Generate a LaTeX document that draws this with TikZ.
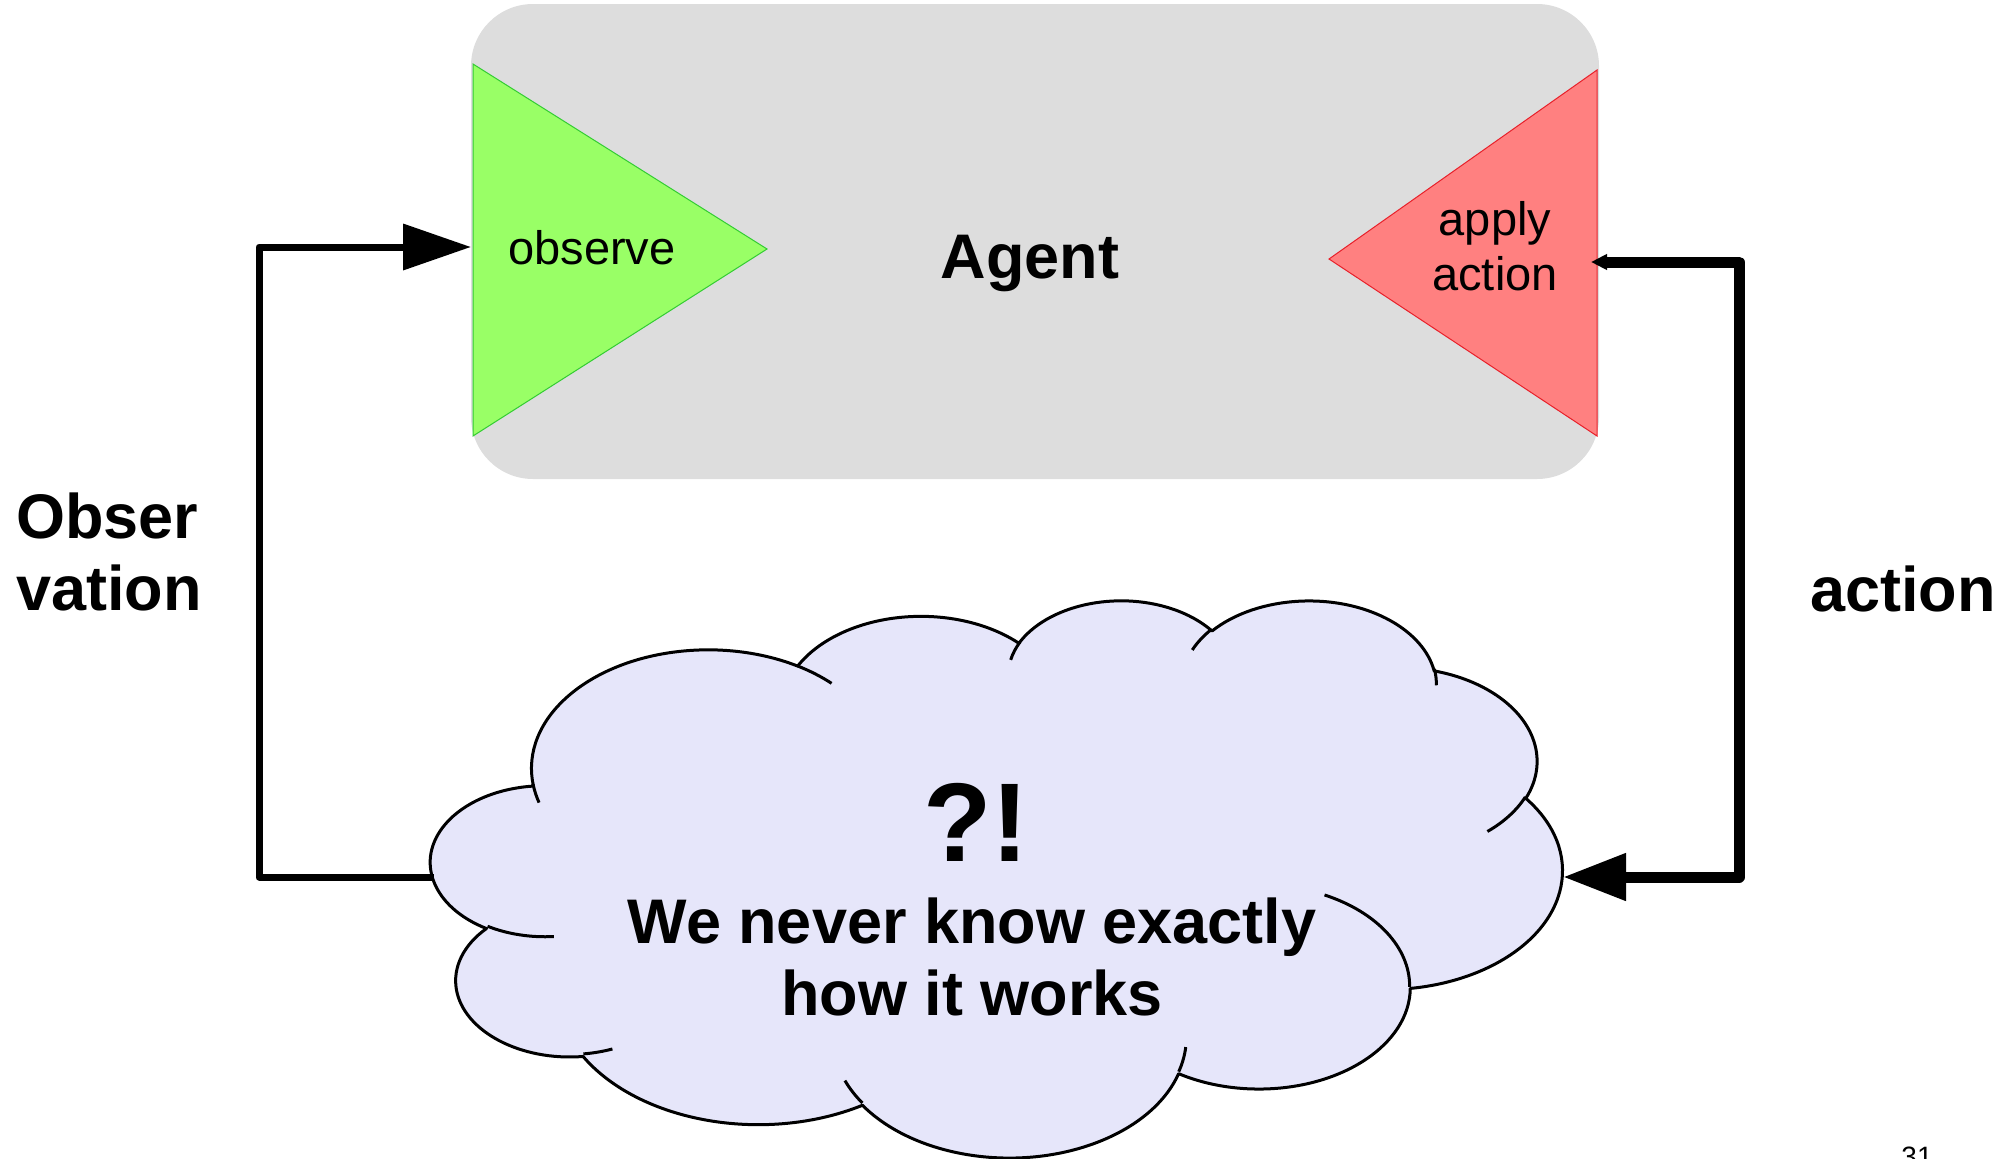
\documentclass[tikz,border=0pt]{standalone}
\usepackage{fontspec}
\setmainfont{Liberation Sans}
\usetikzlibrary{arrows.meta}
\definecolor{agentgray}{HTML}{DDDDDD}
\definecolor{obsgreen}{HTML}{99FF66}
\definecolor{obsedge}{HTML}{33CC33}
\definecolor{actred}{HTML}{FF8080}
\definecolor{actedge}{HTML}{E8202A}
\definecolor{cloudfill}{HTML}{E6E6FA}
\begin{document}
\begin{tikzpicture}[x=1pt,y=-1pt,
  % elliptical arc given by radii, geometric start angle and sweep (y axis down)
  declare function={geopar(\ra,\rb,\ph)=atan2(\ra*sin(\ph),\rb*cos(\ph));},
  oarc/.style n args={4}{x radius=#1,y radius=#2,
    start angle={geopar(#1,#2,#3)},
    delta angle={mod(geopar(#1,#2,(#3)+(#4))-geopar(#1,#2,#3)+720,360)}},
  cloudline/.style={draw=black,line width=3pt,line join=round},
  looptxt/.style={font=\fontsize{63}{72}\selectfont\bfseries,inner sep=0pt,anchor=base},
  innertxt/.style={font=\fontsize{47}{55}\selectfont,inner sep=0pt,anchor=base},
  loopline/.style={draw=black,line join=round}]
\path[use as bounding box] (0,0) rectangle (1992,1159);
\clip (0,0) rectangle (1992,1159);

% agent box with its two ports
\fill[agentgray,rounded corners=62pt] (471,4) rectangle (1599,479);
\filldraw[fill=obsgreen,draw=obsedge,line width=1pt] (473,64) -- (767,249) -- (473,436) -- cycle;
\filldraw[fill=actred,draw=actedge,line width=1pt] (1597,70) -- (1329,259) -- (1597,436) -- cycle;
\node[innertxt] (observe) at (592,264) {observe};
% multi-line nodes sit on the baseline of their last line
\node[innertxt,align=center] (apply) at (1495,290) {apply\\action};
\node[looptxt] (agent) at (1030,278) {Agent};

% environment cloud
\begin{scope}[shift={(431,599)},x=0.261806pt,y=-0.128935pt]
\draw[cloudline,fill=cloudfill] (390,1437)
  arc[oarc={675.3}{919.0}{-190.48748}{123.78053}]
  arc[oarc={533.3}{726.7}{-144.10238}{89.94523}]
  arc[oarc={436.5}{594.5}{-145.80792}{99.72302}]
  arc[oarc={485.7}{659.5}{-130.98607}{117.24173}]
  arc[oarc={533.3}{727.3}{-78.70888}{109.02692}]
  arc[oarc={677.5}{922.0}{-46.26725}{130.26900}]
  arc[oarc={578.5}{786.7}{0.62502}{114.03333}]
  arc[oarc={675.2}{921.5}{22.45160}{115.17255}]
  arc[oarc={772.0}{1054.3}{66.24263}{75.64435}]
  arc[oarc={436.0}{591.8}{-274.94208}{146.73557}]
  arc[oarc={434.5}{594.5}{-246.82850}{152.51885}]
  -- cycle;
\draw[cloudline]
  (469.3,2617.7) arc[oarc={434.5}{594.5}{86.74200}{26.42950}]
  (692.8,3489.9) arc[oarc={436.0}{591.8}{73.61047}{11.44747}]
  (1647.8,3909.0) arc[oarc={675.2}{921.5}{137.62415}{14.08110}]
  (2882.7,3475.1) arc[oarc={675.2}{921.5}{6.45327}{15.99835}]
  (3412.9,2295.4) arc[oarc={578.5}{786.7}{-70.29235}{70.91737}]
  (4179.8,1535.4) arc[oarc={533.3}{727.3}{30.31803}{27.75150}]
  (3832.4,542.6) arc[oarc={485.7}{659.5}{-13.74433}{14.85890}]
  (2907.8,395.2) arc[oarc={485.7}{659.5}{-149.18145}{18.19537}]
  (2214.1,472.0) arc[oarc={436.5}{594.5}{-163.49427}{17.68635}]
  (1400.0,519.2) arc[oarc={675.3}{919.0}{-66.70695}{12.31935}]
  (412.7,1578.9) arc[oarc={675.3}{919.0}{157.65435}{11.85817}];
\end{scope}
\node[font=\fontsize{112}{120}\selectfont\bfseries,inner sep=0pt,anchor=base] (puzzle) at (976,861) {?!};
\node[looptxt,align=center] (unknown) at (972,1015) {We never know exactly\\how it works};

% loop labels
\node[looptxt,align=left,anchor=base west] (obslabel) at (16,610) {Obser\\vation};
\node[looptxt,anchor=base west] (actlabel) at (1810,611) {action};

% connection points
\coordinate (obsIn) at (471,247);
\coordinate (actOut) at (1591,262);
\coordinate (cloudW) at (434,877);
\coordinate (cloudE) at (1563,877);

% observation and action loops
\draw[loopline,line width=7pt,-{Triangle[length=68pt,width=45pt]}]
  (cloudW) -- ++(-175,0) |- (obsIn);
\draw[loopline,line width=11pt,{Triangle[length=16pt,width=15pt]}-{Triangle[length=63pt,width=45pt]}]
  (actOut) -- ++(148,0) |- (cloudE);

% page number
\node[font=\fontsize{28}{32}\selectfont,inner sep=0pt,anchor=base] (pagenum) at (1917,1166) {31};
\end{tikzpicture}
\end{document}
